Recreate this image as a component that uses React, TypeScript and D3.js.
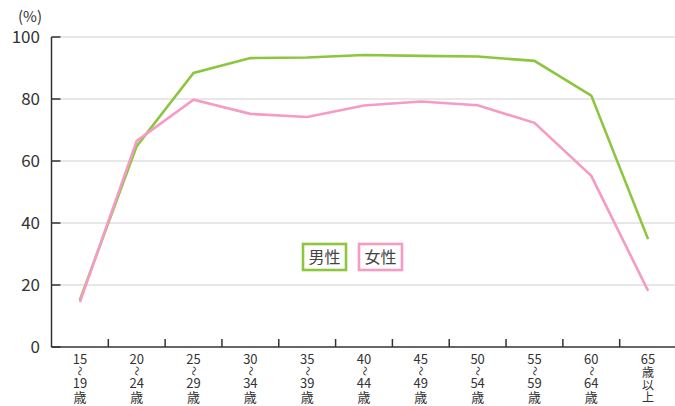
import React from "react";
import * as d3 from "d3";

const ageFrom = ["15", "20", "25", "30", "35", "40", "45", "50", "55", "60", "65"];
const ageTo = ["19", "24", "29", "34", "39", "44", "49", "54", "59", "64", ""];
const male = [15.2, 64.8, 88.4, 93.2, 93.4, 94.2, 93.9, 93.7, 92.3, 81.1, 34.8];
const female = [14.5, 66.5, 79.8, 75.2, 74.2, 77.9, 79.2, 78.0, 72.3, 55.2, 18.1];
const yTicks = [0, 20, 40, 60, 80, 100];

const W = 675;
const H = 406;
const left = 51.5;
const right = 676.5;
const top = 37;
const bottom = 347;
const font = "'Noto Sans CJK JP', 'Noto Sans', sans-serif";

export default function App() {
  const x = d3.scaleBand<string>().domain(ageFrom).range([left, right]);
  const y = d3.scaleLinear().domain([0, 100]).range([bottom, top]);
  const cx = (d: string) => (x(d) as number) + x.bandwidth() / 2;

  const line = d3
    .line<number>()
    .x((_, i) => cx(ageFrom[i]))
    .y(v => y(v));

  const series = [
    { name: "男性", data: male, color: "#8cc63f" },
    { name: "女性", data: female, color: "#f59bc4" }
  ];

  return (
    <svg
      width={W}
      height={H}
      style={{ position: "absolute", left: 0, top: 0, background: "#fff" }}
      fontFamily={font}
    >
      {yTicks.map(t => (
        <g key={t}>
          {t > 0 && (
            <line x1={left} x2={W} y1={y(t)} y2={y(t)} stroke="#cfcfcf" strokeWidth={1.2} />
          )}
          <line x1={left} x2={left + 9} y1={y(t)} y2={y(t)} stroke="#333" strokeWidth={1.5} />
          <text
            x={40}
            y={y(t)}
            dy="0.36em"
            textAnchor="end"
            fontSize={17}
            fill="#333"
          >
            {t}
          </text>
        </g>
      ))}
      <text x={30} y={22} textAnchor="middle" fontSize={15} fill="#333">
        (%)
      </text>
      <line x1={left} x2={left} y1={top} y2={bottom} stroke="#333" strokeWidth={1.5} />
      <line x1={left} x2={W} y1={bottom} y2={bottom} stroke="#333" strokeWidth={1.5} />
      {ageFrom.slice(1).map(d => (
        <line
          key={d}
          x1={x(d)}
          x2={x(d)}
          y1={bottom}
          y2={bottom - 8}
          stroke="#333"
          strokeWidth={1.5}
        />
      ))}
      {ageFrom.map((d, i) => {
        const c = cx(d);
        const last = ageTo[i] === "";
        return (
          <g key={d} fontSize={13} fill="#333" textAnchor="middle">
            <text x={c} y={364}>{d}</text>
            {last ? (
              // 65歳以上: stacked characters
              <g fontSize={12}>
                <text x={c} y={377}>歳</text>
                <text x={c} y={389.5}>以</text>
                <text x={c} y={402}>上</text>
              </g>
            ) : (
              <>
                <text
                  x={0}
                  y={0}
                  fontSize={10}
                  transform={`translate(${c},371) rotate(90)`}
                  dy="0.35em"
                >
                  ～
                </text>
                <text x={c} y={388}>{ageTo[i]}</text>
                <text x={c} y={401.5}>歳</text>
              </>
            )}
          </g>
        );
      })}
      {series.map(s => (
        <path
          key={s.name}
          d={line(s.data) || ""}
          fill="none"
          stroke={s.color}
          strokeWidth={2.6}
          strokeLinejoin="miter"
        />
      ))}
      {series.map((s, i) => (
        <g key={s.name} transform={`translate(${303 + i * 56},244)`}>
          <rect width={43} height={26} fill="#fff" stroke={s.color} strokeWidth={2.6} />
          <text x={21.5} y={13} dy="0.36em" textAnchor="middle" fontSize={16} fill="#444">
            {s.name}
          </text>
        </g>
      ))}
    </svg>
  );
}
